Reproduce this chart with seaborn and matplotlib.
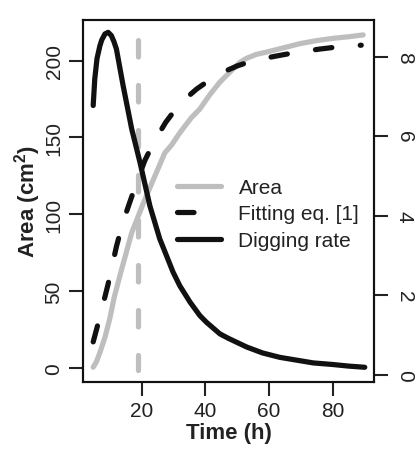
import numpy as np
import pandas as pd
import matplotlib
matplotlib.use("Agg")
import matplotlib.pyplot as plt
import seaborn as sns
from matplotlib.lines import Line2D

# Area measured over time (left axis, cm^2)
area_time = [4.8, 5.8, 6.9, 8.5, 10.0, 11.4, 13.7, 16.9, 20.5, 24.2, 27.3, 29.4, 32.0,
             35.7, 38.3, 41.5, 44.6, 48.7, 51.0, 53.0, 56.0, 59.2, 64.0, 69.7, 75.0, 80.2,
             85.0, 89.6]
area_cm2 = [0.5, 4, 10, 20, 32, 46, 64, 88, 107, 125, 140, 145, 153,
            163, 168.5, 178, 186, 194.5, 199, 201.5, 204, 205.5, 208, 211, 213, 214.5,
            215.5, 216.7]

# Fitted curve, eq. [1] (left axis)
fit_time = [4.8, 7.0, 9.5, 12.1, 14.0, 16.1, 18.5, 21.0, 24.0, 27.6, 32.0, 37.3, 42.0,
            46.7, 50.0, 55.0, 62.4, 69.0, 76.0, 82.0, 89.0]
fit_cm2 = [17, 34, 54.7, 79, 94, 106.7, 121, 134.9, 147.5, 159.9, 172, 181.5, 188.3,
           193.5, 196.5, 200, 203, 205.5, 207.5, 209, 210]

# Digging rate (right axis)
dig_time = [4.8, 5.3, 6.0, 6.9, 7.5, 8.5, 9.5, 10.5, 11.3, 12.1, 14.2, 16.9, 19.5, 22.6,
            25.7, 29.9, 32.0, 35.2, 38.3, 40.4, 44.6, 47.2, 53.0, 58.0, 63.4, 73.9, 80.0,
            85.0, 90.1]
dig_rate = [6.77, 7.44, 7.95, 8.27, 8.42, 8.57, 8.61, 8.53, 8.38, 8.19, 7.27, 6.18, 5.34,
            4.25, 3.42, 2.58, 2.24, 1.83, 1.49, 1.32, 1.03, 0.92, 0.70, 0.55, 0.44, 0.30,
            0.26, 0.22, 0.19]

# vertical marker (drawn top to bottom)
mark_time = 18.9
mark_top = 213.5
mark_bottom = -1.1

legend_labels = ["Area", "Fitting eq. [1]", "Digging rate"]

GRAY = "#bebebe"
BLACK = "#111111"
LW = 3.75
DASH = (0, (3.17, 5.47))

sns.set_style("ticks")
plt.rcParams['font.family'] = ['Liberation Sans', 'DejaVu Sans']
plt.rcParams['mathtext.default'] = 'regular'
plt.rcParams['text.color'] = '#222222'
plt.rcParams['axes.labelcolor'] = '#222222'
plt.rcParams['xtick.color'] = '#222222'
plt.rcParams['ytick.color'] = '#222222'

fig = plt.figure(figsize=(4.15, 4.52), dpi=100)
ax = fig.add_axes([83/415, 1-383/452, (374-83)/415, (383-21)/452])
ax2 = ax.twinx()

sns.lineplot(x=area_time, y=area_cm2, ax=ax, color=GRAY, lw=LW, estimator=None, sort=False,
             solid_capstyle='round', solid_joinstyle='round')
ax.plot([mark_time, mark_time], [mark_top, mark_bottom], color=GRAY, lw=LW, linestyle=DASH,
        dash_capstyle='round')
sns.lineplot(x=fit_time, y=fit_cm2, ax=ax, color=BLACK, lw=LW, estimator=None, sort=False,
             linestyle=DASH, dash_capstyle='round')
sns.lineplot(x=dig_time, y=dig_rate, ax=ax2, color=BLACK, lw=LW, estimator=None, sort=False,
             solid_capstyle='round', solid_joinstyle='round')

ax.set_xlim(1.6, 93.0)
ax.set_ylim(-9.1, 226.4)
ax2.set_ylim(-0.18, 8.92)

ax.set_xticks([20, 40, 60, 80])
ax.set_yticks([0, 50, 100, 150, 200])
ax2.set_yticks([0, 2, 4, 6, 8])

ax.tick_params(axis='both', length=10, width=1.5, labelsize=15, pad=4)
ax2.tick_params(axis='y', length=10, width=1.5, labelsize=15, pad=5)
plt.setp(ax.get_yticklabels(), rotation=90, va='center')
plt.setp(ax2.get_yticklabels(), rotation=-90, va='center')

for a in (ax, ax2):
    for s in a.spines.values():
        s.set_linewidth(1.5)
        s.set_color('#111111')

ax.set_xlabel('Time (h)', fontsize=16, fontweight='bold')
ax.set_ylabel('Area (cm$^2$)', fontsize=16, fontweight='bold')
ax.xaxis.set_label_coords(0.5, -0.11)
ax.yaxis.set_label_coords(-0.137, 0.5)
ax2.set_ylabel('')

handles = [
    Line2D([], [], color=GRAY, lw=LW, solid_capstyle='round'),
    Line2D([], [], color=BLACK, lw=LW, linestyle=DASH, dash_capstyle='round'),
    Line2D([], [], color=BLACK, lw=LW, solid_capstyle='round'),
]
ax2.legend(handles, legend_labels, loc='center left', bbox_to_anchor=(177/415, 1-215/452),
           bbox_transform=fig.transFigure, frameon=False, fontsize=15, handlelength=2.1,
           handletextpad=0.85, labelspacing=0.36, borderpad=0, borderaxespad=0)

fig.savefig('out.png', dpi=100)
